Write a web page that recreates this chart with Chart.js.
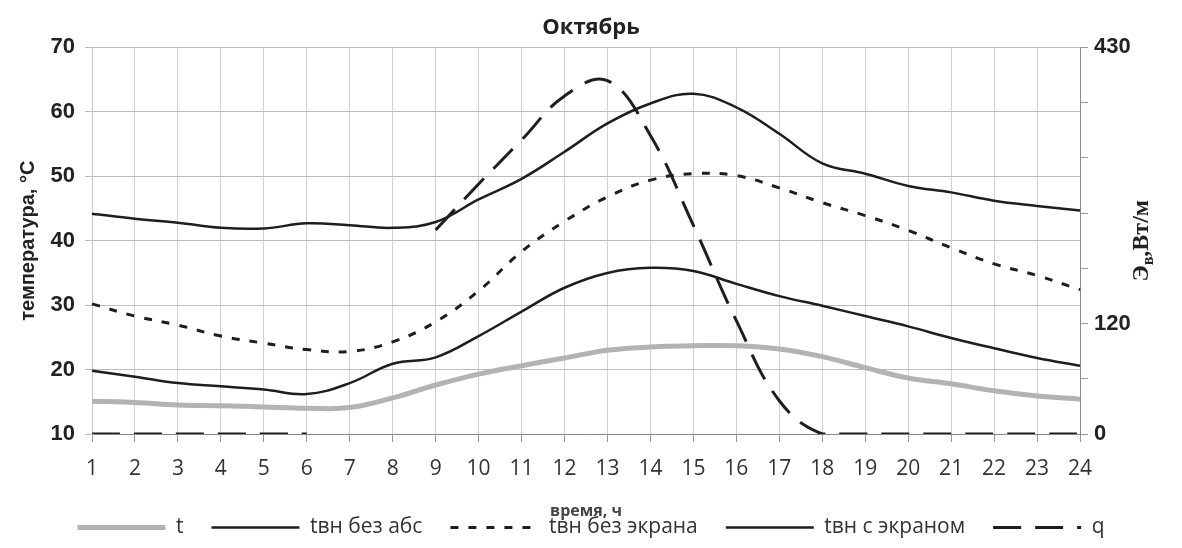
<!DOCTYPE html>
<html lang="ru">
<head>
<meta charset="utf-8">
<title>Октябрь</title>
<style>
  html, body { margin: 0; padding: 0; background: #fff; }
</style>
</head>
<body>
<canvas id="chart" width="1182" height="548"></canvas>
<script src="https://cdn.jsdelivr.net/npm/chart.js"></script>
<script>
  // часы суток
  const hours = ['1', '2', '3', '4', '5', '6', '7', '8', '9', '10', '11', '12',
                 '13', '14', '15', '16', '17', '18', '19', '20', '21', '22', '23', '24'];

  // температура наружного воздуха, °С
  const tOut = [15.1, 14.9, 14.5, 14.4, 14.2, 14.0, 14.1, 15.6, 17.6, 19.3, 20.6, 21.8,
                23.0, 23.5, 23.7, 23.7, 23.2, 22.0, 20.3, 18.7, 17.8, 16.7, 15.9, 15.4];
  // tвн без абс
  const tNoAbs = [44.2, 43.4, 42.8, 42.0, 41.9, 42.7, 42.4, 42.0, 42.9, 46.4, 49.6, 53.8,
                  58.2, 61.3, 62.8, 60.7, 56.6, 52.0, 50.4, 48.5, 47.5, 46.2, 45.4, 44.7];
  // tвн без экрана
  const tNoScreen = [30.2, 28.3, 26.9, 25.2, 24.1, 23.1, 22.8, 24.3, 27.4, 32.2, 38.3, 43.0,
                     46.8, 49.4, 50.4, 50.1, 48.2, 45.9, 43.9, 41.6, 38.9, 36.4, 34.6, 32.4];
  // tвн с экраном
  const tScreen = [19.8, 18.9, 17.9, 17.4, 16.9, 16.2, 17.9, 20.9, 21.9, 25.2, 29.0, 32.7,
                   35.0, 35.8, 35.3, 33.3, 31.4, 29.9, 28.3, 26.7, 24.9, 23.3, 21.8, 20.6];
  // q, Вт/м (правая ось)
  const q = [0, 0, 0, 0, 0, 0, null, null, 227, 278, 327, 376,
             393, 332, 232, 126, 37, 0, 0, 0, 0, 0, 0, 0];

  const qMax = 430;
  const qTickLabels = ['0', '', '120', '', '', '', '', '430'];

  const ink = '#1e1e1e';

  // подписи, которые Chart.js не умеет расположить как в оригинале
  const extraText = {
    id: 'extraText',
    afterDraw(chart) {
      const ctx = chart.ctx;
      const area = chart.chartArea;
      ctx.save();
      // подпись оси X, наезжает на легенду как в исходнике
      ctx.font = 'bold 16px "Open Sans", sans-serif';
      ctx.fillStyle = '#444';
      ctx.textAlign = 'center';
      ctx.textBaseline = 'middle';
      ctx.fillText('время, ч', (area.left + area.right) / 2, 511);

      // правая ось: Эв,Вт/м, снизу вверх
      const big = 'bold 24px "Liberation Serif", serif';
      const small = 'bold 16px "Liberation Serif", serif';
      ctx.textAlign = 'left';
      ctx.textBaseline = 'alphabetic';
      ctx.font = big;
      const w1 = ctx.measureText('Э').width;
      const w3 = ctx.measureText(',Вт/м').width;
      ctx.font = small;
      const w2 = ctx.measureText('в').width;
      const total = w1 + w2 + w3;
      ctx.translate(1148, (area.top + area.bottom) / 2);
      ctx.rotate(-Math.PI / 2);
      ctx.fillStyle = '#222';
      let x = -total / 2;
      ctx.font = big;
      ctx.fillText('Э', x, 0);
      x += w1;
      ctx.font = small;
      ctx.fillText('в', x, 5);
      x += w2;
      ctx.font = big;
      ctx.fillText(',Вт/м', x, 0);
      ctx.restore();
    }
  };

  const data = {
    labels: hours,
    datasets: [
      { label: 't', data: tOut, borderColor: '#b3b3b3', borderWidth: 5, yAxisID: 'y' },
      { label: 'tвн без абс', data: tNoAbs, borderColor: ink, borderWidth: 2.5, yAxisID: 'y' },
      { label: 'tвн без экрана', data: tNoScreen, borderColor: ink, borderWidth: 3,
        borderDash: [8, 10], yAxisID: 'y' },
      { label: 'tвн с экраном', data: tScreen, borderColor: ink, borderWidth: 2.5, yAxisID: 'y' },
      { label: 'q', data: q, borderColor: ink, borderWidth: 3,
        borderDash: [28, 14], yAxisID: 'y1' }
    ]
  };

  const config = {
    type: 'line',
    data,
    options: {
      responsive: false,
      animation: false,
      spanGaps: false,
      elements: {
        line: { tension: 0.4, fill: false, borderCapStyle: 'butt' },
        point: { radius: 0, hoverRadius: 0 }
      },
      plugins: {
        title: {
          display: true,
          text: 'Октябрь',
          color: '#222',
          font: { family: '"Open Sans", sans-serif', size: 22, weight: 'bold' },
          padding: { top: 15, bottom: 6 }
        },
        legend: {
          position: 'bottom',
          maxHeight: 60,
          labels: {
            usePointStyle: true,
            pointStyle: 'line',
            pointStyleWidth: 88,
            color: '#333',
            padding: 28,
            font: { family: '"Open Sans", sans-serif', size: 21 },
            generateLabels(chart) {
              const items = Chart.defaults.plugins.legend.labels.generateLabels(chart);
              items.forEach((item) => {
                const ds = chart.data.datasets[item.datasetIndex];
                item.lineDash = ds.borderDash || [];
                item.lineWidth = ds.borderWidth;
                item.strokeStyle = ds.borderColor;
                item.lineCap = 'butt';
              });
              return items;
            }
          }
        },
        tooltip: { enabled: false }
      },
      scales: {
        x: {
          offset: false,
          grid: { color: '#d2d2d2', tickColor: '#999', tickLength: 8 },
          border: { color: '#888' },
          ticks: {
            color: '#333',
            padding: 14,
            maxRotation: 0,
            autoSkip: false,
            font: { family: '"Open Sans", sans-serif', size: 21 }
          },
          afterFit(scale) { scale.height = 55; }
        },
        y: {
          position: 'left',
          min: 10,
          max: 70,
          ticks: {
            stepSize: 10,
            color: '#222',
            padding: 10,
            font: { family: '"Liberation Sans", sans-serif', size: 22, weight: 'bold' }
          },
          grid: { color: '#bdbdbd', tickColor: '#bbb', tickLength: 7 },
          border: { color: '#c8c8c8' },
          title: {
            display: true,
            text: 'температура, °С',
            color: '#222',
            font: { family: '"Liberation Sans", sans-serif', size: 20, weight: 'bold' },
            padding: { top: 16, bottom: 0 }
          },
          afterFit(scale) { scale.width = 92; }
        },
        y1: {
          position: 'right',
          min: 0,
          max: qMax,
          afterBuildTicks(scale) {
            scale.ticks = qTickLabels.map((_, i) => ({ value: i * qMax / (qTickLabels.length - 1) }));
          },
          ticks: {
            color: '#222',
            padding: 6,
            font: { family: '"Liberation Sans", sans-serif', size: 22, weight: 'bold' },
            callback: (value, index) => qTickLabels[index]
          },
          grid: { drawOnChartArea: false, tickColor: '#999', tickLength: 8 },
          border: { color: '#888' },
          afterFit(scale) { scale.width = 102; }
        }
      }
    },
    plugins: [extraText]
  };

  const myChart = new Chart(document.getElementById('chart'), config);
</script>
</body>
</html>
